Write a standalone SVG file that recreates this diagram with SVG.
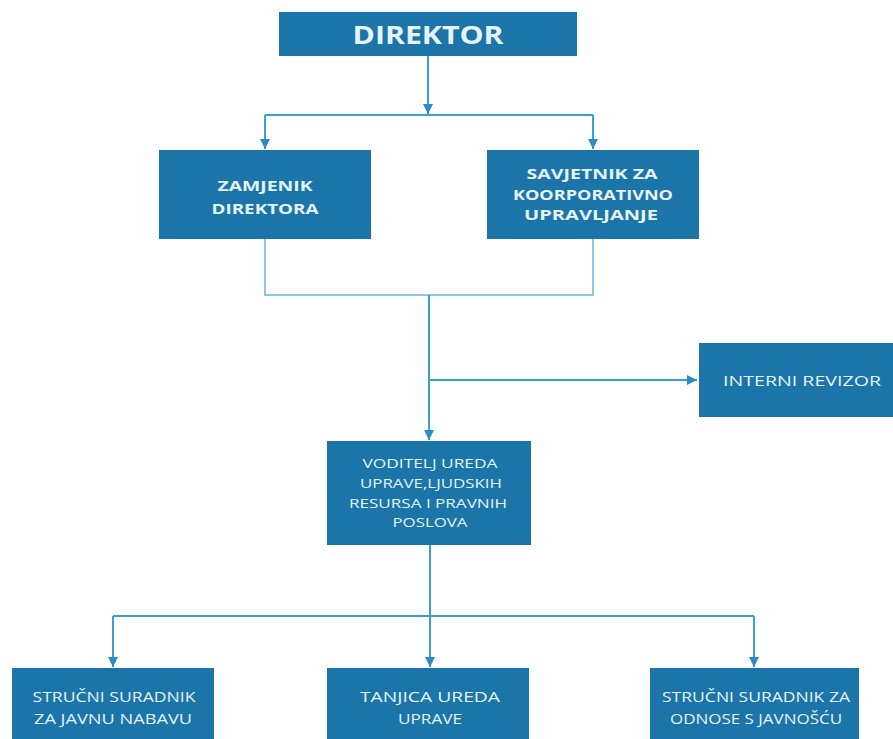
<svg xmlns="http://www.w3.org/2000/svg" width="893" height="739" viewBox="0 0 893 739">
<defs>
<style>
.box{fill:#1b75a9;}
.t{fill:#e6f3fa;font-family:"Open Sans","Liberation Sans",sans-serif;font-size:15px;text-anchor:middle;text-transform:uppercase;}
.b{font-weight:bold;font-size:15px;}
.s{font-size:13.5px;}
.c{fill:none;stroke:#3a9fd6;stroke-width:2;}
.c2{fill:none;stroke:#8fc6e6;stroke-width:2;}
</style>
<marker id="ahL" viewBox="0 0 10 10" refX="10" refY="5" markerWidth="10" markerHeight="10" markerUnits="userSpaceOnUse" orient="auto">
<path d="M0,0 L10,5 L0,10 z" fill="#2a8cc6"/>
</marker>
</defs>
<rect width="893" height="739" fill="#ffffff"/>
<g id="connectors">
<path class="c" d="M428,56 V114" marker-end="url(#ahL)"/>
<path class="c" d="M265,115 H593"/>
<path class="c" d="M265,115 V149" marker-end="url(#ahL)"/>
<path class="c" d="M593,115 V149" marker-end="url(#ahL)"/>
<path class="c2" d="M265,239 V295 H593 V239"/>
<path class="c" d="M429,295 V440" marker-end="url(#ahL)"/>
<path class="c" d="M429,380 H697" marker-end="url(#ahL)"/>
<path class="c" d="M430,545 V667" marker-end="url(#ahL)"/>
<path class="c" d="M113,616 H754"/>
<path class="c" d="M113,616 V667" marker-end="url(#ahL)"/>
<path class="c" d="M754,616 V667" marker-end="url(#ahL)"/>
</g>
<g id="direktor">
<rect class="box" x="279" y="12" width="298" height="44"/>
<text class="t" x="428" y="44" style="font-weight:bold;font-size:25px" textLength="151" lengthAdjust="spacingAndGlyphs">DIREKTOR</text>
</g>
<g id="zamjenik">
<rect class="box" x="159" y="150" width="212" height="89"/>
<text class="t b" x="265" y="191" textLength="95" lengthAdjust="spacingAndGlyphs">ZAMJENIK</text>
<text class="t b" x="265" y="214" textLength="107" lengthAdjust="spacingAndGlyphs">DIREKTORA</text>
</g>
<g id="savjetnik">
<rect class="box" x="487" y="150" width="212" height="89"/>
<text class="t b" x="592" y="179" textLength="131" lengthAdjust="spacingAndGlyphs">SAVJETNIK ZA</text>
<text class="t b" x="593" y="200" textLength="160" lengthAdjust="spacingAndGlyphs">KOORPORATIVNO</text>
<text class="t b" x="591" y="220" textLength="134" lengthAdjust="spacingAndGlyphs">UPRAVLJANJE</text>
</g>
<g id="interni">
<rect class="box" x="699" y="343" width="194" height="74"/>
<text class="t" x="802" y="386" textLength="158" lengthAdjust="spacingAndGlyphs">INTERNI REVIZOR</text>
</g>
<g id="voditelj">
<rect class="box" x="327" y="441" width="204" height="104"/>
<text class="t s" x="430" y="468" textLength="135" lengthAdjust="spacingAndGlyphs">VODITELJ UREDA</text>
<text class="t s" x="431" y="488" textLength="142" lengthAdjust="spacingAndGlyphs">UPRAVE,LJUDSKIH</text>
<text class="t s" x="428" y="508" textLength="158" lengthAdjust="spacingAndGlyphs">RESURSA I PRAVNIH</text>
<text class="t s" x="430" y="527" textLength="75" lengthAdjust="spacingAndGlyphs">POSLOVA</text>
</g>
<g id="strucni-nabava">
<rect class="box" x="12" y="668" width="202" height="71"/>
<text class="t" x="114" y="702" textLength="163" lengthAdjust="spacingAndGlyphs">STRUČNI SURADNIK</text>
<text class="t" x="113" y="724" textLength="158" lengthAdjust="spacingAndGlyphs">ZA JAVNU NABAVU</text>
</g>
<g id="tajnica">
<rect class="box" x="327" y="668" width="202" height="71"/>
<text class="t" x="430" y="702" textLength="140" lengthAdjust="spacingAndGlyphs">TANJICA UREDA</text>
<text class="t" x="430" y="724" textLength="64" lengthAdjust="spacingAndGlyphs">UPRAVE</text>
</g>
<g id="strucni-javnost">
<rect class="box" x="650" y="668" width="209" height="71"/>
<text class="t" x="756" y="702" textLength="188" lengthAdjust="spacingAndGlyphs">STRUČNI SURADNIK ZA</text>
<text class="t" x="756" y="724" textLength="172" lengthAdjust="spacingAndGlyphs">ODNOSE S JAVNOŠĆU</text>
</g>
</svg>
